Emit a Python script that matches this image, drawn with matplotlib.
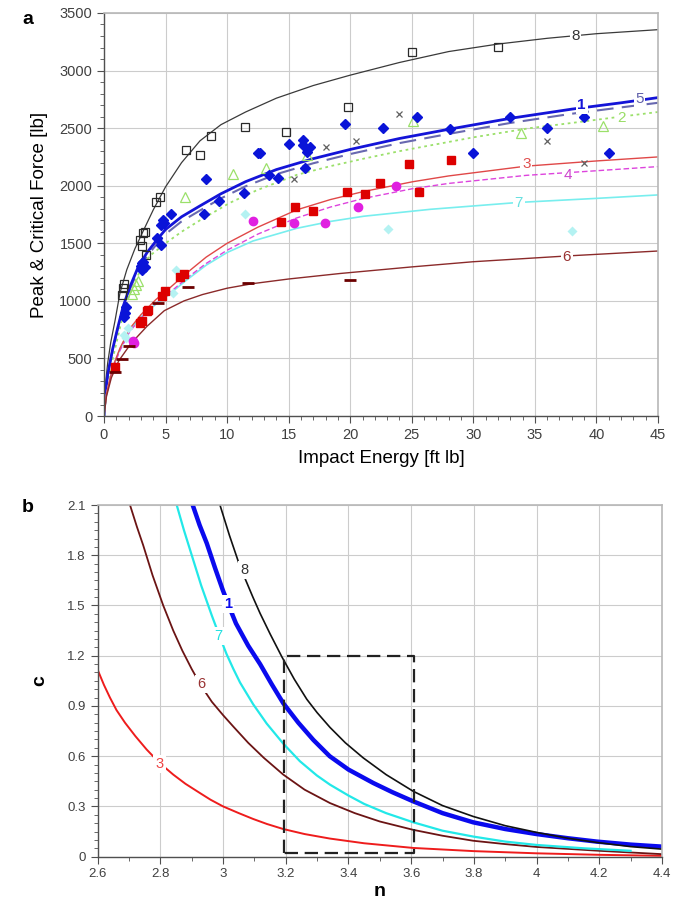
import matplotlib
matplotlib.use('Agg')
import matplotlib.pyplot as plt
from matplotlib.ticker import MultipleLocator

plt.rcParams['font.family'] = ['Liberation Sans', 'DejaVu Sans']

# ---- panel a: measured points (impact energy [ft lb], force [lb]) ----
sq8_e = [1.44, 1.55, 1.65, 2.92, 3.06, 3.19, 3.3, 3.4, 4.22, 4.55, 6.63, 7.8, 8.69, 11.45, 14.76, 19.85, 25.0, 32.0]
sq8_f = [1050, 1110, 1150, 1530, 1480, 1590, 1600, 1400, 1856, 1905, 2311, 2268, 2435, 2508, 2470, 2682, 3165, 3203]

dia1_e = [1.6, 1.71, 1.76, 3.0, 3.05, 3.1, 3.2, 3.3, 4.33, 4.6, 4.63, 4.8, 4.9, 5.44, 8.12, 8.26, 9.34, 11.4,
          12.5, 12.67, 13.4, 14.1, 15.0, 16.2, 16.2, 16.3, 16.5, 16.7, 19.6, 22.7, 25.4, 28.1, 30.0, 33.0, 36.0,
          39.0, 41.05]
dia1_f = [860, 892, 950, 1300, 1330, 1270, 1340, 1290, 1544, 1660, 1486, 1703, 1680, 1752, 1752, 2056, 1868, 1935,
          2282, 2288, 2094, 2070, 2363, 2398, 2354, 2152, 2296, 2340, 2534, 2500, 2595, 2491, 2282, 2595, 2500,
          2595, 2282]

tri2_e = [2.3, 2.45, 2.6, 2.75, 6.55, 10.5, 13.2, 16.5, 25.1, 33.85, 40.5]
tri2_f = [1060, 1100, 1140, 1170, 1900, 2105, 2152, 2268, 2566, 2462, 2520]

x5_e = [15.4, 18.0, 20.5, 24.0, 36.0, 39.0]
x5_f = [2056, 2340, 2389, 2624, 2389, 2195]

sq3_e = [0.9, 2.9, 3.1, 3.5, 3.6, 4.7, 4.95, 6.2, 6.5, 14.4, 15.5, 17.0, 19.7, 21.2, 22.4, 24.8, 25.6, 28.2]
sq3_f = [430, 810, 825, 910, 925, 1040, 1085, 1205, 1235, 1685, 1813, 1781, 1949, 1929, 2020, 2187, 1949, 2221]

circ4_e = [2.35, 2.45, 12.07, 15.4, 17.95, 20.6, 23.7]
circ4_f = [650, 630, 1694, 1680, 1680, 1813, 2001]

dia7_e = [1.6, 1.75, 1.95, 5.6, 5.85, 11.45, 23.05, 38.05]
dia7_f = [700, 680, 765, 1070, 1268, 1752, 1622, 1610]

bar6_e = [0.9, 1.45, 2.0, 4.4, 6.85, 11.7, 20.0]
bar6_f = [385, 493, 610, 979, 1118, 1153, 1182]

# ---- panel a: fitted curves ----
fit8_e = [0, 0.1, 0.3, 0.55, 0.9, 1.3, 1.85, 2.5, 3.2, 4.0, 5.0, 6.3, 7.8, 9.5, 11.5, 14, 17, 20, 24, 28, 32, 36, 40, 45]
fit8_f = [0, 255, 460, 640, 830, 1070, 1270, 1450, 1610, 1790, 1990, 2200, 2390, 2530, 2640, 2760, 2870, 2960, 3070,
          3165, 3230, 3280, 3320, 3355]

fit1_e = [0, 0.1, 0.3, 0.7, 1.1, 1.55, 2.1, 2.8, 3.5, 4.3, 5.0, 6.3, 7.8, 9.5, 11.5, 14, 17, 20, 24, 28, 33, 38, 42, 45]
fit1_f = [0, 190, 360, 580, 760, 950, 1120, 1300, 1420, 1530, 1620, 1730, 1825, 1930, 2035, 2140, 2235, 2315, 2410,
          2490, 2585, 2665, 2720, 2765]
fit5_f = [0, 190, 360, 575, 750, 935, 1100, 1275, 1390, 1495, 1580, 1690, 1785, 1890, 1995, 2100, 2195, 2275, 2370,
          2450, 2545, 2625, 2680, 2720]

fit2_e = [0, 0.2, 0.5, 1.0, 1.5, 2.1, 2.8, 3.7, 5.0, 6.3, 7.8, 10.2, 12.4, 15.65, 18.4, 21.1, 24, 26.5, 30, 34.6, 38,
          42, 45]
fit2_f = [0, 230, 400, 630, 860, 1060, 1230, 1390, 1500, 1600, 1700, 1850, 1960, 2094, 2170, 2235, 2300, 2350, 2420,
          2500, 2545, 2600, 2640]

fit3_e = [0, 0.2, 0.5, 0.8, 1.3, 2.1, 3.0, 4.2, 5.1, 6.7, 8.3, 10.0, 12.5, 15.65, 18.4, 21.1, 25.1, 28, 34.3, 40, 45]
fit3_f = [0, 190, 330, 450, 590, 760, 880, 1010, 1090, 1240, 1380, 1500, 1640, 1790, 1880, 1950, 2035, 2085, 2170,
          2215, 2250]
fit4_f = [0, 185, 320, 435, 570, 735, 850, 975, 1050, 1195, 1325, 1440, 1580, 1720, 1815, 1890, 1975, 2020, 2090,
          2130, 2166]

fit7_e = [0, 0.2, 0.5, 0.8, 1.3, 2.1, 3.0, 4.2, 5.1, 6.7, 8.3, 10, 12.1, 15.65, 18.4, 21.1, 26.5, 33.7, 40, 45]
fit7_f = [0, 185, 325, 445, 580, 745, 860, 970, 1040, 1180, 1310, 1420, 1520, 1630, 1690, 1735, 1795, 1855, 1890,
          1920]

fit6_e = [0, 0.2, 0.6, 1.2, 2.2, 3.5, 4.9, 6.5, 8.0, 10, 12.1, 15, 19.2, 25, 30, 37.6, 45]
fit6_f = [0, 170, 333, 480, 631, 780, 915, 1000, 1055, 1110, 1150, 1190, 1238, 1295, 1340, 1390, 1433]

# ---- panel b: c vs n curves ----
n8 = [2.99, 3.02, 3.049, 3.072, 3.095, 3.118, 3.15, 3.187, 3.227, 3.267, 3.3, 3.341, 3.39, 3.447, 3.52, 3.607,
      3.7, 3.798, 3.9, 4.0, 4.1, 4.192, 4.3, 4.4]
c8 = [2.1, 1.92, 1.76, 1.652, 1.55, 1.453, 1.33, 1.195, 1.06, 0.94, 0.86, 0.772, 0.68, 0.59, 0.49, 0.39,
      0.305, 0.24, 0.185, 0.145, 0.11, 0.085, 0.06, 0.045]

n1 = [2.903, 2.925, 2.948, 2.975, 2.999, 3.02, 3.041, 3.08, 3.118, 3.155, 3.192, 3.24, 3.288, 3.34, 3.4, 3.479,
      3.54, 3.607, 3.7, 3.798, 3.9, 4.0, 4.1, 4.192, 4.3, 4.4]
c1 = [2.1, 1.98, 1.871, 1.72, 1.592, 1.49, 1.393, 1.26, 1.15, 1.03, 0.916, 0.8, 0.697, 0.6, 0.52, 0.44,
      0.385, 0.33, 0.26, 0.205, 0.165, 0.135, 0.11, 0.09, 0.072, 0.06]

n7 = [2.852, 2.875, 2.9, 2.93, 2.964, 2.99, 3.011, 3.033, 3.054, 3.096, 3.139, 3.192, 3.245, 3.299, 3.341, 3.4,
      3.45, 3.52, 3.607, 3.7, 3.798, 3.9, 4.0, 4.15, 4.3]
c7 = [2.1, 1.95, 1.8, 1.62, 1.44, 1.31, 1.21, 1.12, 1.04, 0.91, 0.795, 0.675, 0.57, 0.485, 0.43, 0.365,
      0.315, 0.26, 0.205, 0.155, 0.12, 0.09, 0.07, 0.05, 0.035]

n6 = [2.703, 2.725, 2.745, 2.775, 2.809, 2.841, 2.87, 2.9, 2.93, 2.964, 3.0, 3.033, 3.08, 3.13, 3.192, 3.26,
      3.341, 3.42, 3.5, 3.607, 3.7, 3.798, 3.9, 4.0, 4.2, 4.4]
c6 = [2.1, 1.97, 1.86, 1.68, 1.5, 1.35, 1.23, 1.12, 1.02, 0.925, 0.845, 0.776, 0.68, 0.59, 0.49, 0.4,
      0.32, 0.26, 0.21, 0.16, 0.125, 0.095, 0.075, 0.058, 0.035, 0.015]

n3 = [2.6, 2.62, 2.639, 2.66, 2.687, 2.72, 2.756, 2.797, 2.841, 2.88, 2.926, 2.96, 3.0, 3.05, 3.096, 3.14,
      3.192, 3.26, 3.341, 3.45, 3.607, 3.8, 4.0, 4.2, 4.4]
c3 = [1.115, 1.025, 0.95, 0.875, 0.8, 0.72, 0.64, 0.56, 0.49, 0.435, 0.38, 0.34, 0.3, 0.26, 0.225, 0.195,
      0.165, 0.135, 0.108, 0.08, 0.052, 0.033, 0.02, 0.011, 0.005]

box_n = [3.195, 3.195, 3.61, 3.61, 3.195]
box_c = [0.02, 1.2, 1.2, 0.02, 0.02]

n_ticks = [2.6, 2.8, 3.0, 3.2, 3.4, 3.6, 3.8, 4.0, 4.2, 4.4]
n_tick_labels = ['2.6', '2.8', '3', '3.2', '3.4', '3.6', '3.8', '4', '4.2', '4.4']
c_ticks = [0, 0.3, 0.6, 0.9, 1.2, 1.5, 1.8, 2.1]
c_tick_labels = ['0', '0.3', '0.6', '0.9', '1.2', '1.5', '1.8', '2.1']

fig = plt.figure(figsize=(6.81, 9.07), dpi=100)
ax = fig.add_axes([0.1527, 0.5413, 0.8135, 0.4444])
bx = fig.add_axes([0.1435, 0.0555, 0.8285, 0.3877])


def style(a):
    a.grid(True, which='major', color='#cccccc', lw=0.8)
    a.set_axisbelow(True)
    for s in ['top', 'right']:
        a.spines[s].set_color('#b8b8b8')
        a.spines[s].set_linewidth(1.2)
    for s in ['left', 'bottom']:
        a.spines[s].set_color('#505050')
        a.spines[s].set_linewidth(1.0)
    a.tick_params(which='both', direction='out', colors='#505050', labelcolor='#404040')
    a.tick_params(which='major', length=5)
    a.tick_params(which='minor', length=3)


# panel a curves
ax.plot(fit8_e, fit8_f, color='#3a3a3a', lw=0.9)
ax.plot(fit2_e, fit2_f, color='#9be06a', lw=1.3, ls=(0, (1.5, 2)))
ax.plot(fit1_e, fit5_f, color='#6868b0', lw=1.5, ls=(0, (8, 4)))
ax.plot(fit1_e, fit1_f, color='#1414d8', lw=2.0)
ax.plot(fit7_e, fit7_f, color='#78eeee', lw=1.2)
ax.plot(fit3_e, fit4_f, color='#dd44dd', lw=1.0, ls=(0, (4, 2)))
ax.plot(fit3_e, fit3_f, color='#e04848', lw=1.0)
ax.plot(fit6_e, fit6_f, color='#8b2a2a', lw=1.0)

# panel a markers
ax.plot(dia7_e, dia7_f, 'D', color='#b4f2f2', ms=5, mec='none')
ax.plot(tri2_e, tri2_f, '^', mfc='none', mec='#9be06a', ms=7, mew=0.9)
ax.plot(x5_e, x5_f, 'x', color='#606060', ms=5, mew=0.9)
ax.plot(sq8_e, sq8_f, 's', mfc='none', mec='#2a2a2a', ms=6, mew=0.9)
ax.plot(sq3_e, sq3_f, 's', color='#dd0000', ms=6)
ax.plot(circ4_e, circ4_f, 'o', color='#e020e0', ms=6)
ax.plot(dia1_e, dia1_f, 'D', color='#0a14d8', ms=5)
ax.plot(bar6_e, bar6_f, '_', color='#6b0000', ms=8, mew=2)

lab = dict(ha='center', va='center', fontsize=11,
           bbox=dict(facecolor='white', edgecolor='none', pad=1.2))
ax.text(38.3, 3300, '8', color='#333333', **lab)
ax.text(38.8, 2700, '1', color='#1414d8', fontweight='bold', **lab)
ax.text(43.5, 2752, '5', color='#6060aa', **lab)
ax.text(42.0, 2585, '2', color='#99dd66', **lab)
ax.text(34.3, 2185, '3', color='#e05050', **lab)
ax.text(37.7, 2095, '4', color='#cc44cc', **lab)
ax.text(33.7, 1853, '7', color='#66e0e0', **lab)
ax.text(37.6, 1385, '6', color='#993333', **lab)

ax.set_xlim(0, 45)
ax.set_ylim(0, 3500)
ax.xaxis.set_major_locator(MultipleLocator(5))
ax.xaxis.set_minor_locator(MultipleLocator(1))
ax.yaxis.set_major_locator(MultipleLocator(500))
ax.yaxis.set_minor_locator(MultipleLocator(100))
style(ax)
ax.tick_params(labelsize=10.5)
ax.set_xlabel('Impact Energy [ft lb]', fontsize=13.5, labelpad=6)
ax.set_ylabel('Peak & Critical Force [lb]', fontsize=13.5, labelpad=8)

# panel b
bx.plot(n3, c3, color='#ee1c1c', lw=1.4)
bx.plot(n6, c6, color='#6b1414', lw=1.3)
bx.plot(n7, c7, color='#22e8e8', lw=1.6)
bx.plot(n1, c1, color='#0a0aee', lw=3.2)
bx.plot(n8, c8, color='#111111', lw=1.2)
bx.plot(box_n, box_c, color='#222222', lw=1.6, ls=(0, (6, 3)))

blab = dict(ha='center', va='center', fontsize=10.5,
            bbox=dict(facecolor='white', edgecolor='none', pad=1.5))
bx.text(3.068, 1.71, '8', color='#333333', **blab)
bx.text(3.016, 1.51, '1', color='#0a0aee', fontweight='bold', **blab)
bx.text(2.985, 1.32, '7', color='#22e0e0', **blab)
bx.text(2.93, 1.03, '6', color='#993333', **blab)
bx.text(2.797, 0.555, '3', color='#ee4444', **blab)

bx.set_xlim(2.6, 4.4)
bx.set_ylim(0, 2.1)
bx.set_xticks(n_ticks)
bx.set_xticklabels(n_tick_labels)
bx.set_yticks(c_ticks)
bx.set_yticklabels(c_tick_labels)
bx.xaxis.set_minor_locator(MultipleLocator(0.1))
bx.yaxis.set_minor_locator(MultipleLocator(0.05))
style(bx)
bx.tick_params(labelsize=9.5)
bx.set_xlabel('n', fontsize=14, fontweight='bold', labelpad=2)
bx.set_ylabel('c', fontsize=14, fontweight='bold', labelpad=14)

fig.text(0.041, 0.979, 'a', fontsize=14, fontweight='bold', ha='center', va='center')
fig.text(0.041, 0.44, 'b', fontsize=14, fontweight='bold', ha='center', va='center')

fig.savefig('out.png', dpi=100)
